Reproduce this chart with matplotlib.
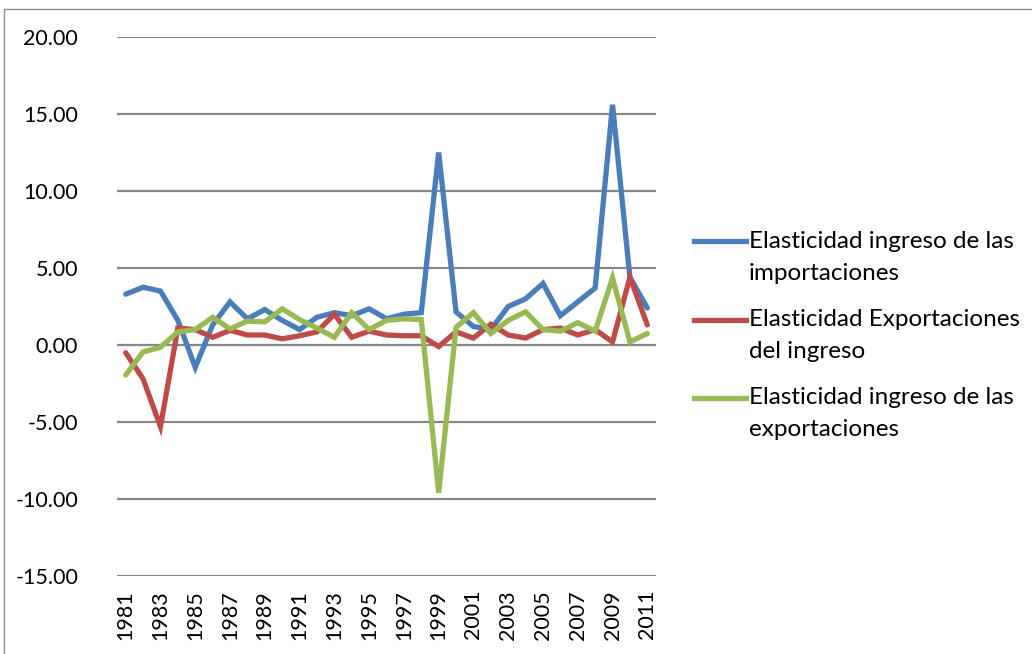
import matplotlib
matplotlib.use("Agg")
import matplotlib.pyplot as plt
from matplotlib.lines import Line2D
from matplotlib.patches import Rectangle

plt.rcParams['font.family'] = ['Lato', 'DejaVu Sans']

years = list(range(1981, 2012))

imports_income = [3.3, 3.75, 3.5, 1.6, -1.45, 1.3, 2.8, 1.7, 2.3, 1.6, 1.0,
                  1.8, 2.1, 1.9, 2.35, 1.7, 2.0, 2.1, 12.5, 2.15, 1.2,
                  1.0, 2.5, 3.0, 4.0, 1.9, 2.8, 3.7, 15.6, 4.4, 2.4]
exports_income_b = [-0.5, -2.2, -5.3, 1.1, 1.0, 0.5, 0.95, 0.65, 0.65, 0.4, 0.6,
                    0.85, 2.0, 0.5, 0.9, 0.65, 0.6, 0.6, -0.1, 0.85, 0.45,
                    1.35, 0.65, 0.45, 1.0, 1.1, 0.65, 1.0, 0.2, 4.4, 1.3]
exports_income = [-1.95, -0.45, -0.15, 0.85, 1.0, 1.8, 1.05, 1.55, 1.5, 2.35, 1.65,
                  1.1, 0.5, 2.1, 1.0, 1.6, 1.7, 1.65, -9.6, 1.15, 2.1,
                  0.75, 1.6, 2.15, 1.0, 0.9, 1.45, 0.9, 4.35, 0.2, 0.75]

series_labels = [["Elasticidad ingreso de las", "importaciones"],
                 ["Elasticidad Exportaciones", "del ingreso"],
                 ["Elasticidad ingreso de las", "exportaciones"]]
colors = ["#4A7EBB", "#BE4B48", "#98B954"]
y_ticks = [-15, -10, -5, 0, 5, 10, 15, 20]

W, H = 1032, 654
fig = plt.figure(figsize=(W / 100, H / 100), dpi=100)
fig.patch.set_facecolor("white")

# outer chart frame (open on the right and bottom edges)
fig.add_artist(Rectangle((4 / W, -0.05), 1.1, 1 - 9 / H + 0.05,
                         transform=fig.transFigure, fill=False,
                         edgecolor="#8c8c8c", linewidth=1.0))

ax = fig.add_axes([117 / W, 1 - 576 / H, (656 - 117) / W, (576 - 37) / H])
ax.set_xlim(1980.5, 2011.5)
ax.set_ylim(-15, 20)

for t in y_ticks:
    ax.axhline(t, color="#878787", linewidth=1.6, zorder=1)

for vals, c in zip([imports_income, exports_income_b, exports_income], colors):
    ax.plot(years, vals, color=c, linewidth=3.8, solid_joinstyle="miter",
            solid_capstyle="round", zorder=3)

for s in ax.spines.values():
    s.set_visible(False)

ax.set_yticks(y_ticks)
ax.set_yticklabels([f"{t:.2f}" for t in y_ticks], fontsize=15.5)
ax.set_xticks(years[::2])
ax.set_xticklabels([str(y) for y in years[::2]], rotation=90, fontsize=15.5)
ax.tick_params(axis="both", length=0)
ax.tick_params(axis="y", pad=28)
ax.tick_params(axis="x", pad=10)

# legend
legend_rows = [241, 320, 398]
for lines, c, yr in zip(series_labels, colors, legend_rows):
    yf = 1 - yr / H
    fig.add_artist(Line2D([694 / W, 746 / W], [yf, yf], transform=fig.transFigure,
                          color=c, linewidth=3.8))
    for k, txt in enumerate(lines):
        fig.text(749 / W, 1 - (yr + 32 * k) / H, txt, fontsize=17.5,
                 va="center", ha="left")

fig.savefig("out.png", dpi=100)
